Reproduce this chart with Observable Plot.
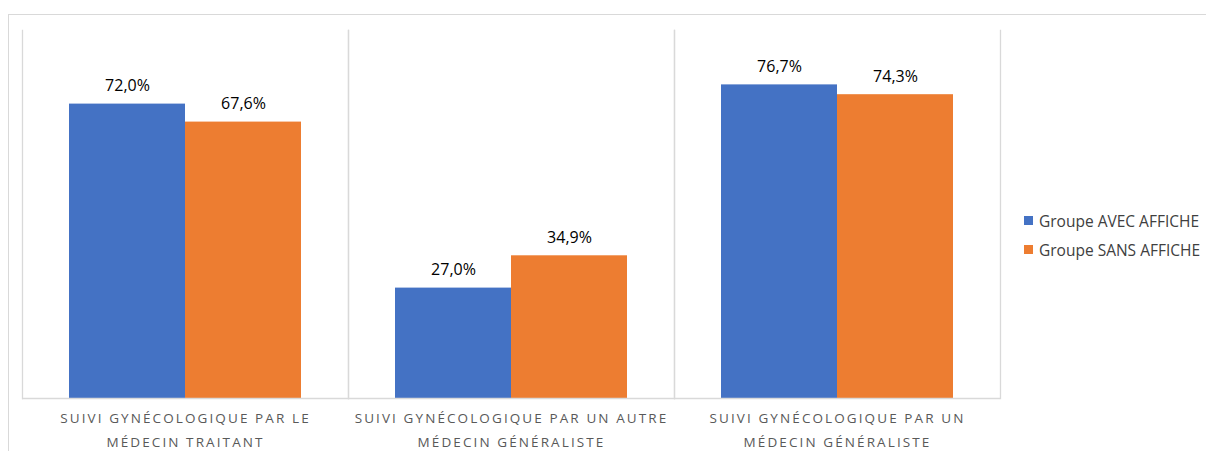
<!DOCTYPE html>
<html>
<head>
<meta charset="utf-8">
<script src="https://cdn.jsdelivr.net/npm/d3@7"></script>
<script src="https://cdn.jsdelivr.net/npm/@observablehq/plot@0.6"></script>
<style>
  html, body { margin: 0; padding: 0; background: #fff; }
  #wrap { position: relative; width: 1206px; height: 451px; overflow: hidden; font-family: "Open Sans", sans-serif; }
  #border { position: absolute; left: 8px; top: 14px; right: -2px; bottom: -2px; border-left: 1.5px solid #d9d9d9; border-top: 1.5px solid #d9d9d9; }
  #chart { position: absolute; left: 0; top: 0; }
  #legend { position: absolute; left: 1024px; top: 206px; font-size: 15.5px; color: #404040; }
  .item { display: flex; align-items: center; height: 29px; white-space: nowrap; }
  .sw { width: 9px; height: 9px; margin-right: 6px; flex: none; }
</style>
</head>
<body>
<div id="wrap">
  <div id="border"></div>
  <div id="chart"></div>
  <div id="legend"></div>
</div>
<script>
const categories = [
  "SUIVI GYNÉCOLOGIQUE PAR LE\nMÉDECIN TRAITANT",
  "SUIVI GYNÉCOLOGIQUE PAR UN AUTRE\nMÉDECIN GÉNÉRALISTE",
  "SUIVI GYNÉCOLOGIQUE PAR UN\nMÉDECIN GÉNÉRALISTE"
];
const groups = ["Groupe AVEC AFFICHE", "Groupe SANS AFFICHE"];
const avecValues = [0.720, 0.270, 0.767];
const sansValues = [0.676, 0.349, 0.743];
const colors = ["#4472C4", "#ED7D31"];

const data = [];
categories.forEach((c, i) => {
  data.push({cat: c, group: groups[0], value: avecValues[i]});
  data.push({cat: c, group: groups[1], value: sansValues[i]});
});
const fmt = v => (v * 100).toFixed(1).replace(".", ",") + "%";

const chart = Plot.plot({
  width: 1206,
  height: 451,
  marginLeft: 22,
  marginRight: 206,
  marginTop: 30,
  marginBottom: 53,
  style: {fontFamily: "'Open Sans', sans-serif", background: "transparent", overflow: "visible"},
  fx: {domain: categories, paddingInner: 0, paddingOuter: 0, axis: null, label: null},
  x: {domain: groups, paddingInner: 0, paddingOuter: 0.404, axis: null},
  y: {domain: [0, 0.9], axis: null},
  color: {domain: groups, range: colors},
  marks: [
    Plot.frame({anchor: "left", stroke: "#d9d9d9", strokeWidth: 1.3}),
    Plot.frame({anchor: "right", stroke: "#d9d9d9", strokeWidth: 1.3}),
    Plot.barY(data, {fx: "cat", x: "group", y: "value", fill: "group"}),
    Plot.ruleY([0], {stroke: "#d9d9d9", strokeWidth: 1.3}),
    Plot.text(data, {fx: "cat", x: "group", y: "value", text: d => fmt(d.value),
      lineAnchor: "middle", dy: -18, fontSize: 16, fill: "#000"}),
    Plot.text(categories, {fx: d => d, text: d => d, frameAnchor: "bottom",
      lineAnchor: "top", dy: 7.5, lineHeight: 1.78, fontSize: 13.5, fill: "#595959",
      ariaLabel: "catlab"})
  ]
});
document.getElementById("chart").appendChild(chart);

d3.select(chart).selectAll("text")
  .filter(function() { return this.textContent.startsWith("SUIVI"); })
  .attr("letter-spacing", "2.1px")
  .style("letter-spacing", "2.1px");

const legend = document.getElementById("legend");
groups.forEach((g, i) => {
  const item = document.createElement("div");
  item.className = "item";
  const sw = document.createElement("span");
  sw.className = "sw";
  sw.style.background = colors[i];
  const t = document.createElement("span");
  t.textContent = g;
  item.appendChild(sw);
  item.appendChild(t);
  legend.appendChild(item);
});
</script>
</body>
</html>
